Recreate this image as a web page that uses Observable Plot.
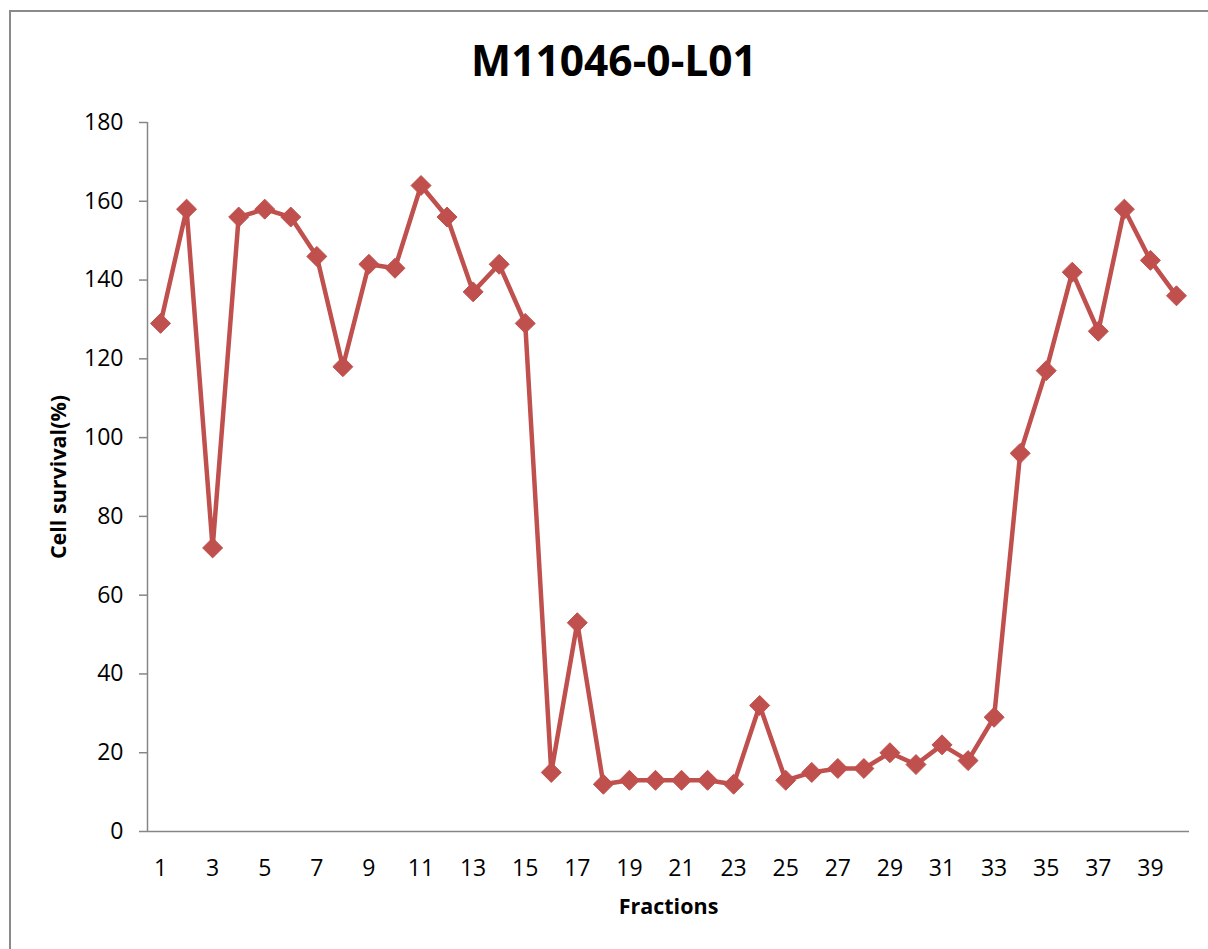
<!DOCTYPE html>
<html>
<head>
<meta charset="utf-8">
<script src="https://cdn.jsdelivr.net/npm/d3@7"></script>
<script src="https://cdn.jsdelivr.net/npm/@observablehq/plot@0.6"></script>
<style>
  html, body { margin: 0; padding: 0; background: #fff; }
  body { width: 1208px; height: 949px; overflow: hidden; position: relative; font-family: "Open Sans", sans-serif; }
  #frame { position: absolute; left: 9px; top: 10px; width: 1220px; height: 960px; border: 2px solid #8a8a8a; box-sizing: border-box; }
  #title { position: absolute; left: 0; width: 1228px; top: 35px; text-align: center; font-weight: bold; font-size: 42.5px; color: #000; line-height: 50px; }
  #chart { position: absolute; left: 0; top: 100px; }
</style>
</head>
<body>
<div id="frame"></div>
<div id="title">M11046-0-L01</div>
<div id="chart"></div>
<script>
const fractions = d3.range(1, 41);
const survival = [129, 158, 72, 156, 158, 156, 146, 118, 144, 143,
                  164, 156, 137, 144, 129, 15, 53, 12, 13, 13,
                  13, 13, 12, 32, 13, 15, 16, 16, 20, 17,
                  22, 18, 29, 96, 117, 142, 127, 158, 145, 136];
const xTicks = [1, 3, 5, 7, 9, 11, 13, 15, 17, 19, 21, 23, 25, 27, 29, 31, 33, 35, 37, 39];
const yTicks = [0, 20, 40, 60, 80, 100, 120, 140, 160, 180];
const data = fractions.map((f, i) => ({fraction: f, survival: survival[i]}));

const lineColor = "#C0504D";
const axisColor = "#868686";

const chart = Plot.plot({
  width: 1208,
  height: 849,
  marginTop: 22,
  marginBottom: 118,
  marginLeft: 147,
  marginRight: 19,
  style: {fontFamily: "'Open Sans', sans-serif", fontSize: "22px", color: "#000", background: "transparent"},
  x: {domain: [0.5, 40.5], label: null},
  y: {domain: [0, 180], label: null},
  marks: [
    Plot.ruleX([0.5], {stroke: axisColor, strokeWidth: 1.5}),
    Plot.ruleY([0], {stroke: axisColor, strokeWidth: 1.5}),
    Plot.axisY({ticks: yTicks, tickSize: 8, tickPadding: 16, stroke: axisColor, strokeWidth: 1.5, fontSize: 23, label: null}),
    Plot.axisX({ticks: xTicks, tickSize: 0, tickPadding: 28, fontSize: 23, label: null}),
    Plot.axisX({ticks: [], label: "Fractions", labelAnchor: "center", labelArrow: "none", labelOffset: 82, fontWeight: "bold", fontSize: 21.5}),
    Plot.axisY({ticks: [], label: "Cell survival(%)", labelAnchor: "center", labelArrow: "none", labelOffset: 97, fontWeight: "bold", fontSize: 21.5}),
    Plot.line(data, {x: "fraction", y: "survival", stroke: lineColor, strokeWidth: 4.5}),
    Plot.dot(data, {x: "fraction", y: "survival", symbol: "diamond2", r: 9, fill: lineColor, stroke: lineColor, strokeWidth: 1})
  ]
});
document.getElementById("chart").appendChild(chart);
</script>
</body>
</html>
